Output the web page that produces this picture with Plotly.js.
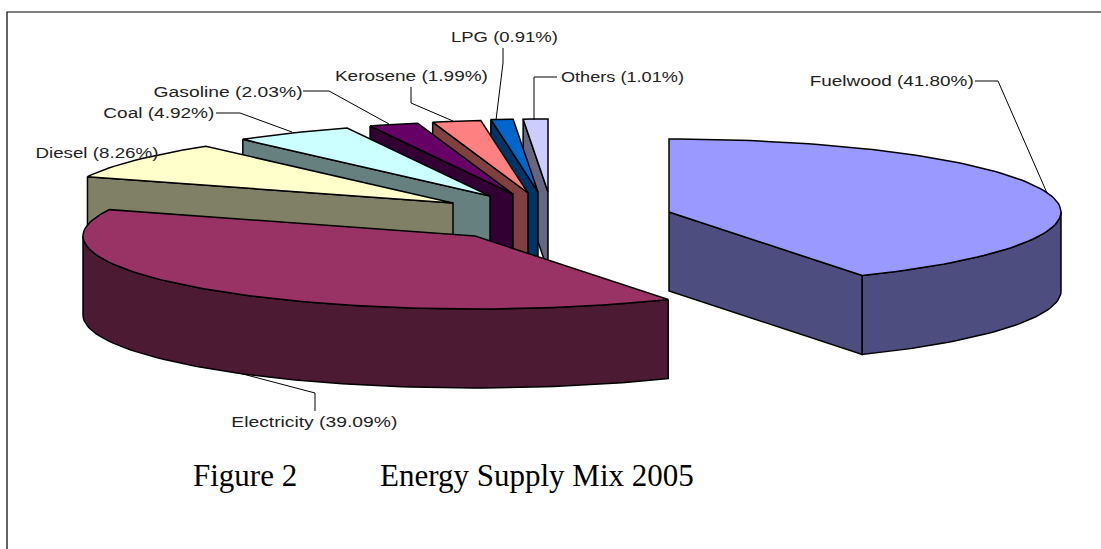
<!DOCTYPE html>
<html>
<head>
<meta charset="utf-8">
<script src="https://cdn.plot.ly/plotly-3.0.1.min.js"></script>
<style>html,body{margin:0;padding:0;background:#fff;overflow:hidden}#chart{width:1101px;height:549px}</style>
</head>
<body>
<div id="chart"></div>
<script>
// --- data ---
const categories = ["Fuelwood","Electricity","Diesel","Coal","Gasoline","Kerosene","LPG","Others"];
const shares = [41.80,39.09,8.26,4.92,2.03,1.99,0.91,1.01];
const captionLeft = "Figure 2";
const captionRight = "Energy Supply Mix 2005";

// --- style ---
const topColours  = ["#9999FF","#993366","#FFFFCC","#CCFFFF","#660066","#FF8080","#0066CC","#CCCCFF"];
const wallColours = ["#4D4D80","#4D1A33","#808066","#668080","#330033","#804040","#003366","#666680"];

// --- pie geometry (exploded-slice centres, tilt ellipse, thickness) ---
const centreX = [669,475,453,490,513,528,538,548];
const centreY = [212,236,203,196,194,193,192,192];
const RX = 392, RY = 73, DEPTH = 79;
const labelLeft  = [809,231,35,103,153,335,451,561];
const labelWidth = [164,166,123,111,149,153,107,123];
const labelY = [81,422,153,113,92,76,37,77];
const leaders = [
  [[975,998,1047],[81,81,193]],
  [[315,315,239],[411,393,373]],
  null,
  [[216,240,292],[113,113,132]],
  [[303,329,389],[91,91,124]],
  [[411,411,453],[87,103,121]],
  [[503,503,496],[48,63,120]],
  [[557,534,534],[77,77,120]]
];

const total = shares.reduce((a,b)=>a+b,0);
const pt = (i,deg,dz=0)=>{const r=deg*Math.PI/180;return [centreX[i]+RX*Math.sin(r),centreY[i]-RY*Math.cos(r)+dz];};
const arc = (i,a,b,dz=0)=>{const n=Math.max(2,Math.ceil(Math.abs(b-a)/1.5));const o=[];for(let k=0;k<=n;k++)o.push(pt(i,a+(b-a)*k/n,dz));return o;};
const poly = (pts,fill)=>({type:"scatter",mode:"lines",x:pts.map(p=>p[0]),y:pts.map(p=>p[1]),fill:"toself",fillcolor:fill,
  line:{color:"#000",width:1.5},hoverinfo:"skip",showlegend:false});

const starts=[],ends=[];let acc=0;
shares.forEach(v=>{starts.push(acc/total*360);acc+=v;ends.push(acc/total*360);});

const traces=[];
for(let i=categories.length-1;i>=0;i--){
  const a=starts[i],b=ends[i],C=[centreX[i],centreY[i]];
  if(a>=180){ // radial wall facing the viewer on back-left slices
    const o=pt(i,a);
    traces.push(poly([o,C,[C[0],C[1]+DEPTH],[o[0],o[1]+DEPTH],o],wallColours[i]));
  } else if(b<180){ // front radial wall
    const o=pt(i,b);
    traces.push(poly([C,o,[o[0],o[1]+DEPTH],[C[0],C[1]+DEPTH],C],wallColours[i]));
  }
  // curved outer wall
  const va=Math.max(a,90),vb=Math.min(b,270);
  if(vb>va){
    const t=arc(i,va,vb),l=arc(i,vb,va,DEPTH);
    traces.push(poly(t.concat(l,[t[0]]),wallColours[i]));
  }
  // top face
  traces.push(poly([C].concat(arc(i,a,b),[C]),topColours[i]));
}
leaders.forEach(l=>{if(l)traces.push({type:"scatter",mode:"lines",x:l[0],y:l[1],line:{color:"#000",width:1},hoverinfo:"skip",showlegend:false});});

const annotations=categories.map((c,i)=>({xref:"x",yref:"y",x:labelLeft[i]+labelWidth[i]/2,y:labelY[i],xanchor:"center",yanchor:"middle",
  text:c+" ("+shares[i].toFixed(2)+"%)",showarrow:false,font:{family:"Liberation Sans, Arial",size:14,color:"#222"}}));
annotations.push({xref:"x",yref:"y",x:191,y:475,xanchor:"left",yanchor:"middle",text:captionLeft,showarrow:false,font:{family:"Liberation Serif, Times New Roman",size:31,color:"#000"}});
annotations.push({xref:"x",yref:"y",x:378,y:475,xanchor:"left",yanchor:"middle",text:captionRight,showarrow:false,font:{family:"Liberation Serif, Times New Roman",size:31,color:"#000"}});

const layout={width:1101,height:549,margin:{l:0,r:0,t:0,b:0},paper_bgcolor:"#fff",plot_bgcolor:"#fff",showlegend:false,
  xaxis:{range:[0,1101],visible:false,fixedrange:true},
  yaxis:{range:[549,0],visible:false,fixedrange:true},
  annotations,
  shapes:[{type:"rect",xref:"x",yref:"y",x0:7,y0:12,x1:1110,y1:560,line:{color:"#000",width:1.2},layer:"below"}]};
Plotly.newPlot("chart",traces,layout,{staticPlot:true,displayModeBar:false}).then(gd=>{
  // the reference's slice labels are horizontally stretched: widen the glyphs to the same length
  const texts=gd.querySelectorAll("text.annotation-text");
  categories.forEach((c,i)=>{
    if(texts[i]){texts[i].setAttribute("textLength",labelWidth[i]);texts[i].setAttribute("lengthAdjust","spacingAndGlyphs");}
  });
});
</script>
</body>
</html>
